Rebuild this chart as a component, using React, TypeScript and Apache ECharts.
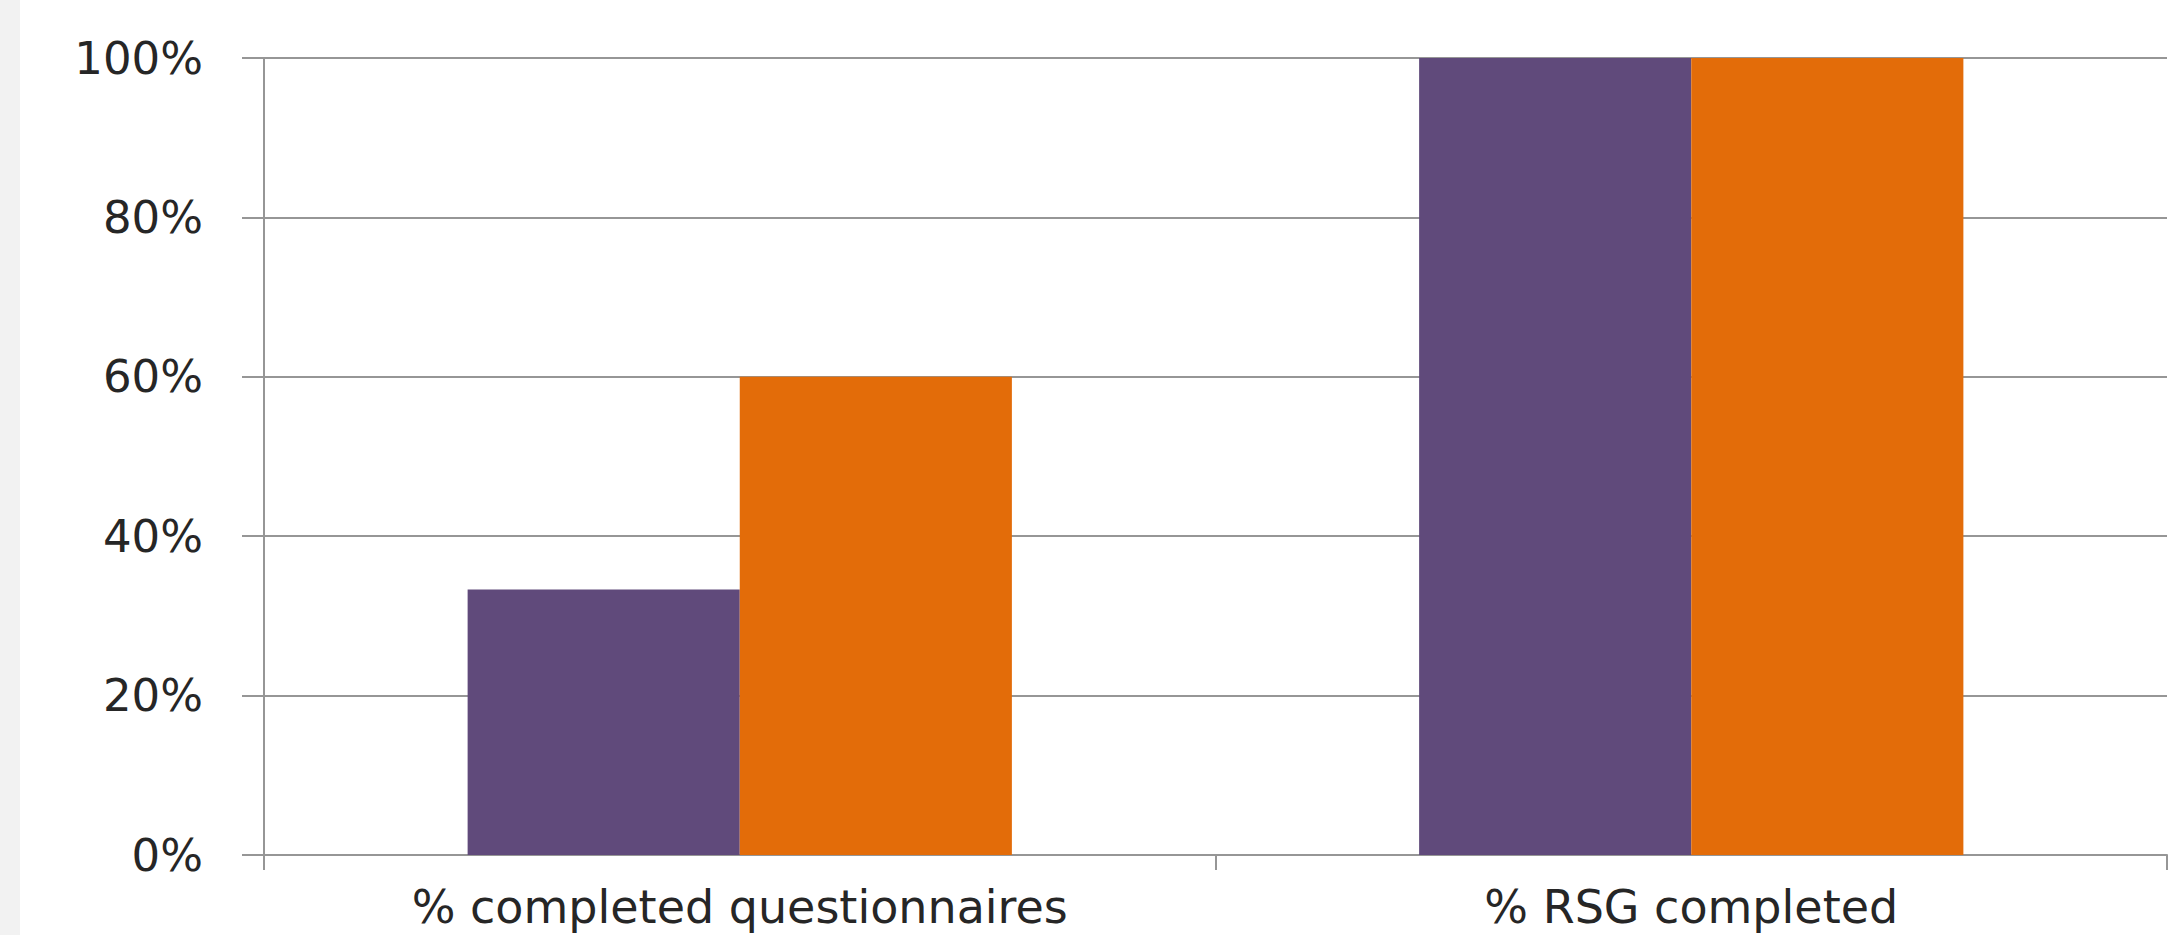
import React, { useEffect, useRef } from "react";
import * as echarts from "echarts";

const categories = ["% completed questionnaires", "% RSG completed"];
const seriesA = [0.333, 1.0];
const seriesB = [0.6, 1.0];
const seriesNames = ["Series 1", "Series 2"];
const yTicks = [0, 0.2, 0.4, 0.6, 0.8, 1.0];

export default function App() {
  const ref = useRef<HTMLDivElement>(null);
  useEffect(() => {
    if (!ref.current) return;
    const chart = echarts.init(ref.current, null, { renderer: "svg" });
    const lineColor = "#969696";
    chart.setOption({
      animation: false,
      backgroundColor: "#ffffff",
      graphic: [
        {
          type: "rect",
          left: 0,
          top: 0,
          shape: { x: 0, y: 0, width: 20, height: 935 },
          style: { fill: "#f2f2f2" },
          silent: true,
        },
      ],
      grid: { left: 264, right: 16, top: 58, bottom: 80, containLabel: false },
      xAxis: {
        type: "category",
        data: categories,
        axisLine: { show: true, lineStyle: { color: lineColor, width: 2 } },
        axisTick: { show: true, length: 15, alignWithLabel: false, lineStyle: { color: lineColor, width: 2 } },
        axisLabel: {
          margin: 29,
          fontFamily: "DejaVu Sans",
          fontSize: 46,
          color: "#262626",
        },
        splitLine: { show: false },
      },
      yAxis: {
        type: "value",
        min: yTicks[0],
        max: yTicks[yTicks.length - 1],
        interval: 0.2,
        axisLine: { show: true, lineStyle: { color: lineColor, width: 2 } },
        axisTick: { show: true, length: 22, lineStyle: { color: lineColor, width: 2 } },
        axisLabel: {
          margin: 61,
          fontFamily: "DejaVu Sans",
          fontSize: 45,
          color: "#262626",
          formatter: (v: number) => Math.round(v * 100) + "%",
        },
        splitLine: { show: true, lineStyle: { color: lineColor, width: 2 } },
      },
      series: [
        {
          name: seriesNames[0],
          type: "bar",
          data: seriesA,
          barWidth: "28.6%",
          barGap: "0%",
          itemStyle: { color: "#604a7b" },
        },
        {
          name: seriesNames[1],
          type: "bar",
          data: seriesB,
          barWidth: "28.6%",
          barGap: "0%",
          itemStyle: { color: "#e36c09" },
        },
      ],
    });
    return () => chart.dispose();
  }, []);
  return (
    <div
      ref={ref}
      style={{ position: "fixed", left: 0, top: 0, width: 2183, height: 935 }}
    />
  );
}
